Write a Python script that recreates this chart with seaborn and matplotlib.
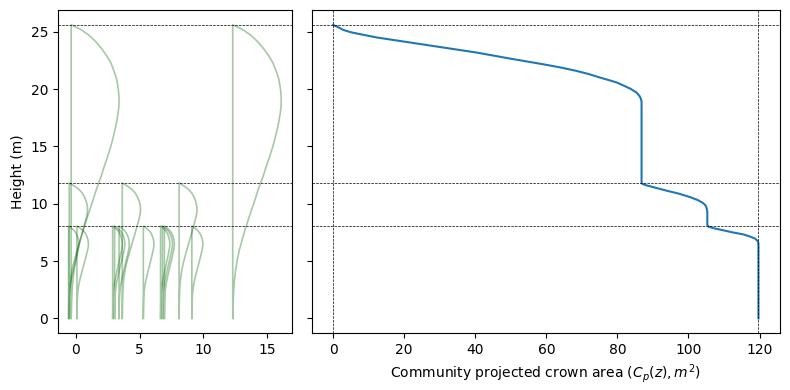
import numpy as np
import pandas as pd
import seaborn as sns
import matplotlib
matplotlib.use('Agg')
import matplotlib.pyplot as plt

# layer heights (m)
layer_heights = [25.6, 11.81, 8.05]

# trees: stem position, height, max crown half-width
tall_x = [-0.35, 12.3]
tall_w = [3.75, 3.8]
mid_x = [-0.5, 3.65, 8.1]
mid_w = [1.43, 1.43, 1.4]
short_x = [-0.55, 0.1, 2.9, 3.05, 3.4, 5.3, 6.65, 6.8, 6.95, 9.1]
short_w = [0.8, 0.9, 0.75, 0.8, 0.8, 0.83, 0.72, 0.78, 0.78, 0.86]

# normalised crown profiles (relative height, relative width)
tall_prof_h = [1.0, 0.985, 0.967, 0.945, 0.921, 0.895, 0.87, 0.84, 0.813, 0.78,
               0.751, 0.72, 0.70, 0.665, 0.631, 0.59, 0.552, 0.52, 0.484,
               0.438, 0.40, 0.37, 0.335, 0.301, 0.265, 0.233, 0.2, 0.165,
               0.13, 0.097, 0.05, 0.0]
tall_prof_w = [0.0, 0.19, 0.354, 0.5, 0.626, 0.74, 0.83, 0.9, 0.952, 0.985,
               1.0, 0.995, 0.98, 0.945, 0.898, 0.835, 0.762, 0.695, 0.626,
               0.524, 0.45, 0.388, 0.318, 0.252, 0.19, 0.136, 0.095, 0.061,
               0.036, 0.02, 0.008, 0.0]
under_prof_h = [1.0, 0.975, 0.95, 0.925, 0.9, 0.875, 0.85, 0.825, 0.8, 0.775,
                0.75, 0.7, 0.65, 0.6, 0.55, 0.5, 0.45, 0.4, 0.35, 0.3, 0.25,
                0.2, 0.1, 0.0]
under_prof_w = [0.0, 0.3, 0.55, 0.71, 0.82, 0.9, 0.96, 0.99, 1.0, 0.985,
                0.95, 0.85, 0.75, 0.64, 0.53, 0.42, 0.32, 0.22, 0.145, 0.09,
                0.055, 0.03, 0.01, 0.0]

# community projected crown area
cp = [0, 0.4, 1.0, 2.8, 5.0, 7.5, 12.2, 21.6, 31.0, 40.4, 49.7, 59.1, 64.0,
      68.5, 72.0, 75.1, 77.9, 80.0, 81.6, 83.7, 85.4, 86.2, 86.6, 86.8, 86.8,
      87.2, 88.2, 93.8, 97.5, 100.4, 102.6, 104.1, 104.8, 105.1, 105.3, 105.3,
      105.6, 107.0, 112.6, 115.5, 117.3, 118.8, 119.6, 119.7, 119.7]
cp_z = [25.6, 25.52, 25.46, 25.16, 24.95, 24.79, 24.5, 24.06, 23.62, 23.18,
        22.66, 22.16, 21.88, 21.58, 21.3, 21.0, 20.75, 20.55, 20.32, 20.02,
        19.69, 19.4, 19.16, 18.9, 11.81, 11.7, 11.6, 11.14, 10.86, 10.58,
        10.32, 10.06, 9.85, 9.62, 9.3, 8.15, 8.0, 7.87, 7.49, 7.32, 7.14,
        6.95, 6.70, 6.4, 0]

fig, (ax1, ax2) = plt.subplots(1, 2, figsize=(7.9, 3.9), dpi=100, sharey=True,
                               gridspec_kw={'width_ratios': [1, 2]})


def draw_tree(ax, x0, H, w, ph, pw):
    xs = [x0, x0] + [x0 + w * v for v in pw]
    ys = [0, H] + [H * v for v in ph]
    sns.lineplot(x=xs, y=ys, ax=ax, sort=False, estimator=None,
                 color='darkgreen', alpha=0.35, lw=1.2)


groups = [(tall_x, tall_w, layer_heights[0], tall_prof_h, tall_prof_w),
          (mid_x, mid_w, layer_heights[1], under_prof_h, under_prof_w),
          (short_x, short_w, layer_heights[2], under_prof_h, under_prof_w)]
for xs, ws, H, ph, pw in groups:
    for x0, w in zip(xs, ws):
        draw_tree(ax1, x0, H, w, ph, pw)

df = pd.DataFrame({'cp': cp, 'z': cp_z})
sns.lineplot(data=df, x='cp', y='z', ax=ax2, sort=False, estimator=None,
             color='tab:blue', lw=1.5)

for ax in (ax1, ax2):
    for h in layer_heights:
        ax.axhline(h, color='k', ls='--', lw=0.5)
ax2.axvline(0, color='k', ls='--', lw=0.5)
ax2.axvline(cp[-1], color='k', ls='--', lw=0.5)

ax1.set_xlabel('')
ax1.set_ylabel('Height (m)')
ax2.set_ylabel('')
ax2.set_xlabel(r'Community projected crown area ($C_p(z), m^2$)')
ax1.set_xticks([0, 5, 10, 15])
ax2.set_xticks([0, 20, 40, 60, 80, 100, 120])
ax1.set_yticks([0, 5, 10, 15, 20, 25])

plt.subplots_adjust(left=0.0734, right=0.987, bottom=0.146, top=0.974, wspace=0.057)
plt.savefig('out.png', dpi=100)
plt.close()
